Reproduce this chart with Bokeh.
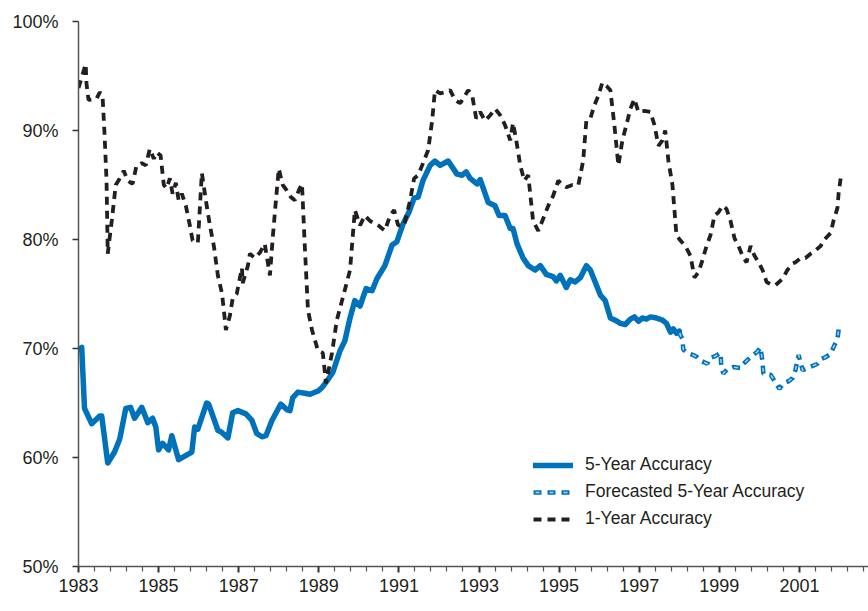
from bokeh.plotting import figure
from bokeh.models import Range1d, FixedTicker, Legend, LegendItem
from bokeh.embed import file_html
from bokeh.resources import INLINE

# ---- data ----
five_year_x = [1983.0, 1983.08, 1983.15, 1983.33, 1983.53, 1983.58, 1983.73, 1983.9, 1984.03, 1984.18,
               1984.3, 1984.4, 1984.58, 1984.73, 1984.85, 1984.93, 1985.0, 1985.1, 1985.25, 1985.33,
               1985.5, 1985.83, 1985.9, 1985.98, 1986.2, 1986.25, 1986.48, 1986.58, 1986.73, 1986.85,
               1986.98, 1987.18, 1987.33, 1987.45, 1987.58, 1987.68, 1987.83, 1988.05, 1988.2, 1988.28,
               1988.35, 1988.48, 1988.65, 1988.78, 1988.98, 1989.08, 1989.2, 1989.35, 1989.53, 1989.65,
               1989.78, 1989.9, 1990.03, 1990.18, 1990.33, 1990.45, 1990.65, 1990.83, 1990.95, 1991.1,
               1991.25, 1991.38, 1991.48, 1991.6, 1991.78, 1991.9, 1992.03, 1992.23, 1992.45, 1992.58,
               1992.68, 1992.78, 1992.95, 1993.03, 1993.23, 1993.4, 1993.5, 1993.65, 1993.78, 1993.85,
               1993.95, 1994.1, 1994.23, 1994.4, 1994.53, 1994.68, 1994.85, 1994.93, 1995.03, 1995.18,
               1995.28, 1995.4, 1995.53, 1995.68, 1995.78, 1995.9, 1996.03, 1996.15, 1996.28, 1996.4,
               1996.53, 1996.65, 1996.78, 1996.88, 1996.98, 1997.08, 1997.18, 1997.28, 1997.43, 1997.58,
               1997.68, 1997.78, 1997.85, 1997.93, 1998.0]
five_year_y = [69.9, 70.1, 64.5, 63.1, 63.8, 63.8, 59.5, 60.5, 61.7, 64.5,
               64.6, 63.6, 64.6, 63.2, 63.6, 62.8, 60.7, 61.3, 60.7, 62.0,
               59.8, 60.5, 62.8, 62.6, 65.0, 64.9, 62.5, 62.3, 61.8, 64.1,
               64.3, 64.0, 63.4, 62.2, 61.9, 62.0, 63.4, 64.9, 64.4, 64.3,
               65.5, 66.0, 65.9, 65.8, 66.1, 66.4, 67.0, 67.8, 69.8, 70.7,
               72.8, 74.4, 73.9, 75.5, 75.3, 76.4, 77.6, 79.5, 79.8, 81.4,
               82.5, 83.8, 83.9, 85.4, 86.8, 87.2, 86.8, 87.2, 86.0, 85.9,
               86.2, 85.6, 85.1, 85.5, 83.4, 83.1, 82.2, 82.2, 81.0, 81.0,
               79.6, 78.3, 77.6, 77.2, 77.6, 76.8, 76.6, 76.2, 76.7, 75.6,
               76.3, 76.1, 76.5, 77.6, 77.2, 76.1, 74.9, 74.4, 72.8, 72.6,
               72.3, 72.2, 72.7, 72.9, 72.5, 72.8, 72.7, 72.9, 72.8, 72.6,
               72.3, 71.5, 71.8, 71.4, 71.6]

forecast_x = [1998.0, 1998.03, 1998.08, 1998.1, 1998.2, 1998.35, 1998.45, 1998.53, 1998.7, 1998.75,
              1998.9, 1999.03, 1999.05, 1999.1, 1999.2, 1999.35, 1999.53, 1999.6, 1999.78, 1999.95,
              2000.03, 2000.08, 2000.1, 2000.28, 2000.4, 2000.5, 2000.6, 2000.73, 2000.83, 2000.9,
              2000.98, 2001.08, 2001.2, 2001.33, 2001.45, 2001.53, 2001.65, 2001.78, 2001.85, 2001.95,
              2002.0]
forecast_y = [71.6, 71.2, 70.9, 69.9, 69.6, 69.4, 69.2, 68.9, 68.6, 69.1,
              69.3, 69.6, 68.3, 67.7, 68.1, 68.3, 68.2, 68.6, 69.2, 69.7,
              70.1, 68.7, 67.7, 67.6, 66.9, 66.3, 66.8, 67.0, 67.3, 68.0,
              69.4, 68.0, 68.2, 68.4, 68.6, 69.0, 69.2, 69.5, 70.1, 70.9,
              72.3]

one_year_x = [1983.0, 1983.18, 1983.2, 1983.25, 1983.45, 1983.53, 1983.6, 1983.65, 1983.7, 1983.73,
              1983.83, 1983.93, 1984.03, 1984.13, 1984.23, 1984.35, 1984.45, 1984.58, 1984.68, 1984.78,
              1984.88, 1984.95, 1985.05, 1985.13, 1985.2, 1985.28, 1985.35, 1985.43, 1985.5, 1985.58,
              1985.68, 1985.78, 1985.85, 1985.98, 1986.08, 1986.18, 1986.28, 1986.38, 1986.48, 1986.58,
              1986.63, 1986.68, 1986.78, 1986.85, 1986.95, 1987.08, 1987.1, 1987.23, 1987.28, 1987.4,
              1987.53, 1987.65, 1987.73, 1987.78, 1987.85, 1987.93, 1988.0, 1988.1, 1988.2, 1988.3,
              1988.4, 1988.5, 1988.58, 1988.65, 1988.73, 1988.83, 1988.98, 1989.1, 1989.18, 1989.33,
              1989.45, 1989.58, 1989.78, 1989.9, 1990.03, 1990.15, 1990.28, 1990.48, 1990.65, 1990.78,
              1990.88, 1990.98, 1991.13, 1991.28, 1991.38, 1991.48, 1991.58, 1991.73, 1991.83, 1991.9,
              1992.03, 1992.15, 1992.28, 1992.4, 1992.53, 1992.65, 1992.73, 1992.83, 1992.93, 1993.03,
              1993.15, 1993.28, 1993.4, 1993.53, 1993.65, 1993.78, 1993.85, 1993.93, 1994.03, 1994.13,
              1994.23, 1994.35, 1994.48, 1994.58, 1994.73, 1994.85, 1994.98, 1995.08, 1995.18, 1995.33,
              1995.48, 1995.6, 1995.68, 1995.78, 1995.88, 1995.98, 1996.08, 1996.18, 1996.28, 1996.38,
              1996.48, 1996.58, 1996.68, 1996.78, 1996.88, 1996.98, 1997.13, 1997.28, 1997.38, 1997.48,
              1997.58, 1997.65, 1997.73, 1997.83, 1997.88, 1997.93, 1998.03, 1998.15, 1998.28, 1998.38,
              1998.48, 1998.58, 1998.68, 1998.78, 1998.88, 1998.98, 1999.08, 1999.18, 1999.28, 1999.38,
              1999.48, 1999.58, 1999.68, 1999.78, 1999.88, 1999.98, 2000.08, 2000.18, 2000.28, 2000.4,
              2000.58, 2000.7, 2000.83, 2000.9, 2001.03, 2001.15, 2001.28, 2001.4, 2001.53, 2001.6,
              2001.78, 2001.85, 2001.95, 2001.98, 2002.03]
one_year_y = [93.9, 96.1, 94.3, 92.8, 92.9, 93.5, 93.2, 89.7, 85.4, 78.7,
              81.7, 85.0, 85.6, 86.3, 85.4, 85.1, 86.8, 87.0, 86.8, 88.3,
              87.4, 88.0, 87.7, 85.0, 84.7, 85.6, 84.2, 85.2, 83.6, 84.2,
              83.1, 81.3, 79.9, 79.7, 86.1, 83.6, 81.3, 79.4, 76.7, 75.1,
              73.5, 71.7, 73.0, 74.6, 75.0, 77.4, 76.0, 77.6, 78.7, 78.3,
              78.8, 79.6, 77.8, 76.7, 80.2, 83.6, 86.5, 85.0, 84.5, 83.9,
              83.6, 84.5, 85.1, 79.4, 73.5, 71.7, 69.8, 69.6, 66.8, 69.6,
              72.6, 74.4, 77.2, 82.7, 81.3, 82.2, 81.7, 81.3, 80.8, 82.2,
              82.7, 81.3, 81.3, 83.6, 85.6, 85.9, 86.8, 88.2, 90.9, 93.7,
              93.4, 93.5, 93.7, 92.8, 92.5, 93.2, 93.7, 93.2, 91.1, 91.7,
              90.9, 91.4, 92.0, 91.4, 90.5, 89.1, 90.7, 89.1, 86.8, 85.4,
              85.9, 81.7, 80.8, 81.7, 83.1, 84.0, 85.4, 85.0, 84.8, 85.0,
              85.0, 87.2, 90.9, 91.1, 92.3, 93.2, 94.4, 94.1, 93.7, 90.5,
              86.8, 89.1, 90.5, 92.0, 92.9, 91.7, 91.8, 91.7, 90.5, 88.6,
              89.1, 90.0, 87.2, 85.0, 82.7, 80.4, 79.9, 79.4, 78.5, 76.5,
              77.0, 78.1, 79.4, 80.4, 82.2, 82.5, 83.1, 82.8, 81.7, 80.1,
              79.4, 78.5, 77.9, 79.4, 78.5, 77.9, 77.2, 76.1, 75.9, 75.8,
              76.4, 77.2, 77.8, 77.9, 78.3, 78.3, 78.7, 79.0, 79.4, 79.9,
              80.6, 81.7, 82.9, 84.3, 85.6]

year_ticks = [1983, 1985, 1987, 1989, 1991, 1993, 1995, 1997, 1999, 2001]
year_labels = ["1983", "1985", "1987", "1989", "1991", "1993", "1995", "1997", "1999", "2001"]
pct_ticks = [50, 60, 70, 80, 90, 100]
pct_labels = ["50%", "60%", "70%", "80%", "90%", "100%"]
series_names = ["5-Year Accuracy", "Forecasted 5-Year Accuracy", "1-Year Accuracy"]

# ---- styling ----
BLUE = "#0071bb"
LIGHT = "#a9d4f2"
DARK = "#231f20"
AXIS = "#555555"
FONT = "Liberation Sans"

minor = [round(1983 + 0.4 * i, 2) for i in range(1, 50) if (i % 5) != 0]

p = figure(width=868, height=603, x_range=Range1d(1983, 2002.725), y_range=Range1d(50, 100),
           output_backend="svg", toolbar_location=None,
           min_border_left=78, min_border_right=0, min_border_top=21, min_border_bottom=37)
p.xgrid.visible = False
p.ygrid.visible = False
p.outline_line_color = None
p.background_fill_color = "white"
p.border_fill_color = "white"

r5 = p.line(five_year_x, five_year_y, line_color=BLUE, line_width=5.5, line_join="round", line_cap="round")
rf1 = p.line(forecast_x, forecast_y, line_color=BLUE, line_width=4.5, line_dash="8 6")
rf2 = p.line(forecast_x, forecast_y, line_color=LIGHT, line_width=1.5, line_dash="0 2 4 8")
r1 = p.line(one_year_x, one_year_y, line_color=DARK, line_width=3.8, line_dash="8 6")

xa = p.xaxis[0]
xa.ticker = FixedTicker(ticks=year_ticks, minor_ticks=minor)
xa.major_label_overrides = {t: l for t, l in zip(year_ticks, year_labels)}
xa.axis_line_color = AXIS
xa.axis_line_width = 1.5
xa.major_tick_line_color = "#333333"
xa.major_tick_line_width = 2
xa.minor_tick_line_color = AXIS
xa.minor_tick_line_width = 1.2
xa.major_tick_out = 6
xa.major_tick_in = 0
xa.minor_tick_out = 5
xa.minor_tick_in = 0
xa.major_label_standoff = 6
xa.major_label_text_font = FONT
xa.major_label_text_font_size = "18px"
xa.major_label_text_color = DARK

ya = p.yaxis[0]
ya.ticker = FixedTicker(ticks=pct_ticks, minor_ticks=[])
ya.major_label_overrides = {t: l for t, l in zip(pct_ticks, pct_labels)}
ya.axis_line_color = AXIS
ya.axis_line_width = 1.5
ya.major_tick_line_color = "#333333"
ya.major_tick_line_width = 1.5
ya.major_tick_out = 6
ya.major_tick_in = 0
ya.minor_tick_out = 0
ya.minor_tick_in = 0
ya.major_label_standoff = 14
ya.major_label_text_font = FONT
ya.major_label_text_font_size = "18px"
ya.major_label_text_color = DARK

legend = Legend(items=[LegendItem(label=series_names[0], renderers=[r5]),
                       LegendItem(label=series_names[1], renderers=[rf1, rf2]),
                       LegendItem(label=series_names[2], renderers=[r1])],
                location=(455, 37), padding=0, margin=0, spacing=6,
                glyph_width=40, glyph_height=20, label_height=20, label_standoff=12,
                label_text_font=FONT, label_text_font_size="17.5px", label_text_color=DARK,
                border_line_color=None, background_fill_alpha=0)
p.add_layout(legend, "center")

open("out.html", "w").write(file_html(p, INLINE))
